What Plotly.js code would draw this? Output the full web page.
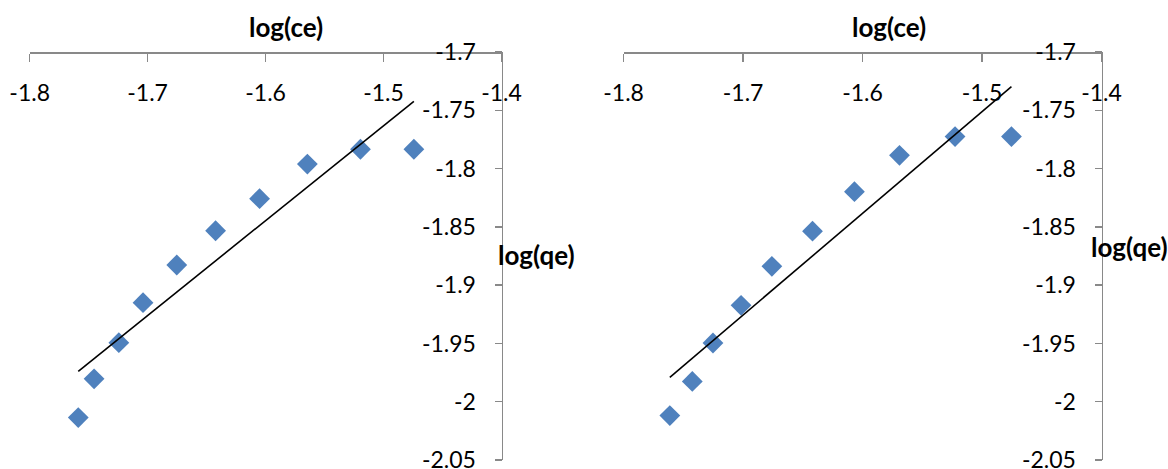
<!DOCTYPE html>
<html><head><meta charset="utf-8">
<script src="https://cdn.plot.ly/plotly-3.0.1.min.js"></script>
<style>html,body{margin:0;padding:0;background:#fff}#chart{width:1168px;height:469px}</style>
</head><body><div id="chart"></div>
<script>
// Left chart data
const logCeA = [-1.7588, -1.7454, -1.7244, -1.7039, -1.6753, -1.6424, -1.6051, -1.5646, -1.5196, -1.4743];
const logQeA = [-2.0136, -1.9804, -1.9493, -1.9150, -1.8827, -1.8533, -1.8258, -1.7961, -1.7834, -1.7834];
// Right chart data
const logCeB = [-1.7613, -1.7425, -1.7252, -1.7017, -1.6759, -1.6419, -1.6068, -1.5691, -1.5226, -1.4754];
const logQeB = [-2.0119, -1.9826, -1.9496, -1.9173, -1.8838, -1.8537, -1.8198, -1.7886, -1.7725, -1.7725];

const xTickVals = [-1.8, -1.7, -1.6, -1.5, -1.4];
const xTickText = ['-1.8', '-1.7', '-1.6', '-1.5', '-1.4'];
const yTickVals = [-2.05, -2, -1.95, -1.9, -1.85, -1.8, -1.75, -1.7];
const yTickText = ['-2.05', '-2', '-1.95', '-1.9', '-1.85', '-1.8', '-1.75', '-1.7'];
const xTitle = 'log(ce)';
const yTitle = 'log(qe)';

function linFit(xs, ys) {
  const n = xs.length;
  const mx = xs.reduce((a, b) => a + b, 0) / n;
  const my = ys.reduce((a, b) => a + b, 0) / n;
  let sxy = 0, sxx = 0;
  for (let i = 0; i < n; i++) { sxy += (xs[i] - mx) * (ys[i] - my); sxx += (xs[i] - mx) ** 2; }
  const b = sxy / sxx, a = my - b * mx;
  const x0 = Math.min(...xs), x1 = Math.max(...xs);
  return { x: [x0, x1], y: [a + b * x0, a + b * x1] };
}

const FONT = 'Lato, "Open Sans", sans-serif';
const AXIS_COL = '#898989';
const MARK_COL = '#4F81BD';

const fitA = linFit(logCeA, logQeA);
const fitB = linFit(logCeB, logQeB);

const traces = [
  { x: logCeA, y: logQeA, type: 'scatter', mode: 'markers', xaxis: 'x', yaxis: 'y',
    marker: { symbol: 'diamond', size: 16, color: MARK_COL }, hoverinfo: 'x+y' },
  { x: fitA.x, y: fitA.y, type: 'scatter', mode: 'lines', xaxis: 'x', yaxis: 'y',
    line: { color: '#000000', width: 1.6 } },
  { x: logCeB, y: logQeB, type: 'scatter', mode: 'markers', xaxis: 'x2', yaxis: 'y2',
    marker: { symbol: 'diamond', size: 16, color: MARK_COL }, hoverinfo: 'x+y' },
  { x: fitB.x, y: fitB.y, type: 'scatter', mode: 'lines', xaxis: 'x2', yaxis: 'y2',
    line: { color: '#000000', width: 1.6 } }
];

const yTop = 0.889, yBot = 0.0192;
const dA = [0.0254, 0.4294], dB = [0.5339, 0.9431];
const yRange = [-2.05, -1.7];
const eps = 1e-6;

function xAx(dom) {
  return {
    domain: dom, range: [-1.8, -1.4], anchor: 'free', position: yTop, side: 'bottom',
    tickmode: 'array', tickvals: xTickVals, ticktext: xTickText,
    ticks: 'outside', ticklen: 8, tickwidth: 1.5, tickcolor: AXIS_COL,
    showline: true, linecolor: AXIS_COL, linewidth: 1.5,
    showgrid: false, zeroline: false, automargin: false, fixedrange: true,
    ticklabeloverflow: 'allow',
    tickfont: { family: FONT, size: 23, color: '#000' }, ticklabelstandoff: 12
  };
}
function yAx(pos) {
  return {
    domain: [yBot, yTop], range: [yRange[0] - eps, yRange[1] + eps], anchor: 'free', position: pos, side: 'left',
    tickmode: 'array', tickvals: yTickVals, ticktext: yTickText,
    ticks: 'outside', ticklen: 7, tickwidth: 1.5, tickcolor: AXIS_COL,
    showline: true, linecolor: AXIS_COL, linewidth: 1.5,
    showgrid: false, zeroline: false, automargin: false, fixedrange: true,
    ticklabeloverflow: 'allow',
    tickfont: { family: FONT, size: 23, color: '#000' }, ticklabelstandoff: 14
  };
}

const titleFont = { family: FONT, size: 26, color: '#000' };
const layout = {
  width: 1168, height: 469,
  margin: { l: 0, r: 0, t: 0, b: 0 },
  paper_bgcolor: '#ffffff', plot_bgcolor: 'rgba(0,0,0,0)',
  showlegend: false,
  xaxis: xAx(dA),
  yaxis: yAx(dA[1]),
  xaxis2: xAx(dB),
  yaxis2: yAx(dB[1]),
  font: { family: FONT, color: '#000' },
  annotations: [
    { text: '<b>' + xTitle + '</b>', xref: 'paper', yref: 'paper', x: 0.2449, y: 0.943,
      xanchor: 'center', yanchor: 'middle', showarrow: false, font: titleFont },
    { text: '<b>' + xTitle + '</b>', xref: 'paper', yref: 'paper', x: 0.7614, y: 0.9424,
      xanchor: 'center', yanchor: 'middle', showarrow: false, font: titleFont },
    { text: '<b>' + yTitle + '</b>', xref: 'paper', yref: 'paper', x: 0.4245, y: 0.4563,
      xanchor: 'left', yanchor: 'middle', showarrow: false, font: titleFont },
    { text: '<b>' + yTitle + '</b>', xref: 'paper', yref: 'paper', x: 0.9325, y: 0.4733,
      xanchor: 'left', yanchor: 'middle', showarrow: false, font: titleFont }
  ]
};

Plotly.newPlot('chart', traces, layout, { staticPlot: true, displayModeBar: false });
</script>
</body></html>
